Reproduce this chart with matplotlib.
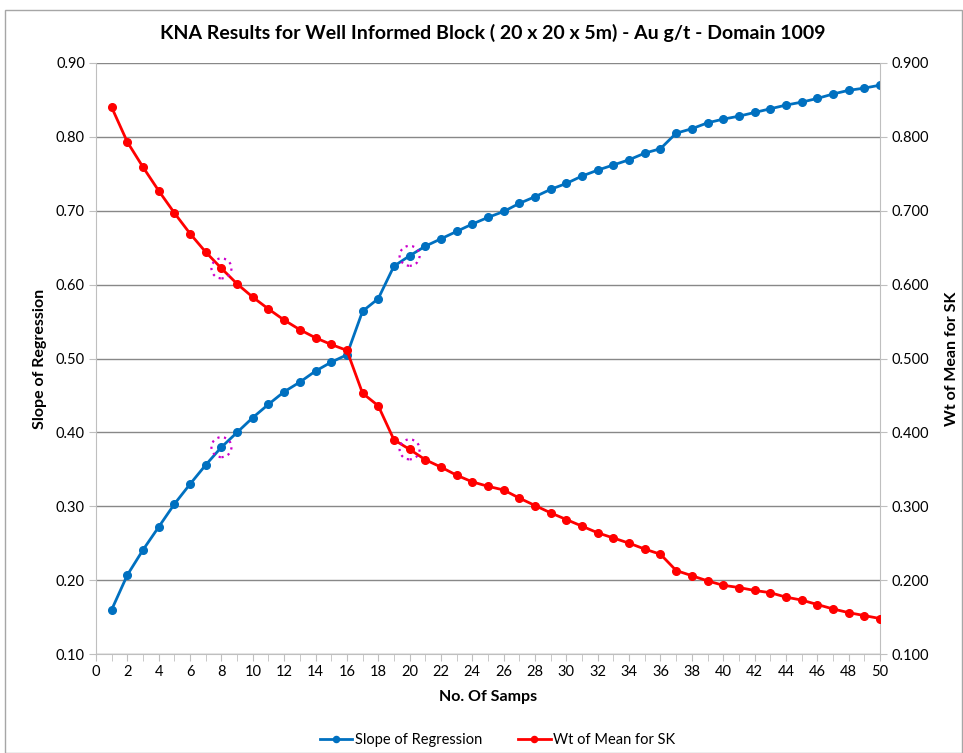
import matplotlib
matplotlib.use("Agg")
import matplotlib.pyplot as plt
from matplotlib.patches import Rectangle, Ellipse

plt.rcParams['font.family'] = ['Lato', 'DejaVu Sans']

samples = list(range(1, 51))
slope = [0.160, 0.207, 0.241, 0.272, 0.303, 0.330, 0.356, 0.380, 0.400, 0.420,
         0.438, 0.455, 0.468, 0.483, 0.495, 0.505, 0.564, 0.581, 0.625, 0.639,
         0.652, 0.662, 0.672, 0.682, 0.691, 0.699, 0.710, 0.719, 0.729, 0.737,
         0.747, 0.755, 0.762, 0.769, 0.778, 0.784, 0.805, 0.811, 0.819, 0.824,
         0.828, 0.833, 0.838, 0.843, 0.847, 0.852, 0.858, 0.863, 0.866, 0.870]
wt_mean = [0.840, 0.793, 0.759, 0.727, 0.697, 0.669, 0.644, 0.622, 0.601, 0.583,
           0.567, 0.552, 0.539, 0.528, 0.519, 0.511, 0.453, 0.436, 0.390, 0.377,
           0.363, 0.353, 0.342, 0.333, 0.327, 0.322, 0.311, 0.301, 0.291, 0.282,
           0.273, 0.264, 0.257, 0.250, 0.242, 0.235, 0.213, 0.206, 0.199, 0.193,
           0.190, 0.186, 0.183, 0.177, 0.173, 0.167, 0.161, 0.156, 0.152, 0.148]
highlight = [8, 20]

title = "KNA Results for Well Informed Block ( 20 x 20 x 5m) - Au g/t - Domain 1009"
blue = "#0070C0"
red = "#FF0000"
grid_c = "#888888"
axis_c = "#BFBFBF"

W, H = 963, 753
fig = plt.figure(figsize=(W / 100, H / 100), dpi=100)
L, R, T, B = 96, 880, 63, 654
ax = fig.add_axes([L / W, 1 - B / H, (R - L) / W, (B - T) / H])
ax2 = ax.twinx()

# outer chart border
fig.patches.append(Rectangle((5 / W, 0), (W - 6) / W, 1 - 10 / H, transform=fig.transFigure,
                             fill=False, edgecolor="#A6A6A6", linewidth=1.0))

ax.set_xlim(0, 50)
ax.set_ylim(0.10, 0.90)
ax2.set_ylim(0.10, 0.90)
yt = [0.1 + 0.1 * i for i in range(9)]
ax.set_yticks(yt)
ax.set_yticklabels([f"{v:.2f}" for v in yt])
ax2.set_yticks(yt)
ax2.set_yticklabels([f"{v:.3f}" for v in yt])
ax.set_xticks(range(0, 51, 2))
ax.set_xticks(range(0, 51), minor=True)

ax.grid(axis='y', color=grid_c, linewidth=1.0)
ax.set_axisbelow(True)

for a in (ax, ax2):
    for s in a.spines.values():
        s.set_visible(False)
ax.spines['left'].set_visible(True)
ax.spines['left'].set_color(axis_c)
ax.spines['bottom'].set_visible(True)
ax.spines['bottom'].set_color(axis_c)
ax2.spines['right'].set_visible(True)
ax2.spines['right'].set_color(axis_c)

ax.tick_params(axis='x', which='both', length=5, color=axis_c, labelsize=10.5, pad=3)
ax.tick_params(axis='y', length=5, color=axis_c, labelsize=10.5, pad=3)
ax2.tick_params(axis='y', length=5, color=axis_c, labelsize=10.5, pad=3)

l1, = ax.plot(samples, slope, color=blue, linewidth=2.0, marker='o', markersize=5.5,
              label="Slope of Regression", zorder=3)
l2, = ax2.plot(samples, wt_mean, color=red, linewidth=2.0, marker='o', markersize=5.5,
               label="Wt of Mean for SK", zorder=3)

# dotted highlight circles
for xv in highlight:
    for series, a in ((slope, ax), (wt_mean, ax2)):
        yv = series[samples.index(xv)]
        e = Ellipse((xv, yv), width=20 / ((R - L) / 50), height=20 / ((B - T) / 0.8),
                    fill=False, edgecolor="#CC00CC", linestyle=(0, (1, 2)), linewidth=1.6, zorder=4)
        a.add_patch(e)

ax.set_ylabel("Slope of Regression", fontsize=11.5, fontweight='bold', labelpad=6)
ax2.set_ylabel("Wt of Mean for SK", fontsize=11.5, fontweight='bold', labelpad=12)
ax.set_xlabel("No. Of Samps", fontsize=11.5, fontweight='bold', labelpad=8)

fig.text(0.5 * (L + R) / W + 0.005, 1 - 33 / H, title, ha='center', va='center',
         fontsize=14, fontweight='bold')

fig.legend(handles=[l1, l2], loc='center', bbox_to_anchor=(0.5 * (L + R) / W + 0.01, 1 - 740 / H),
           ncol=2, frameon=False, fontsize=10.5, handlelength=2.2, handletextpad=0.2,
           columnspacing=2.5, markerscale=0.8)

fig.savefig("out.png", dpi=100)
